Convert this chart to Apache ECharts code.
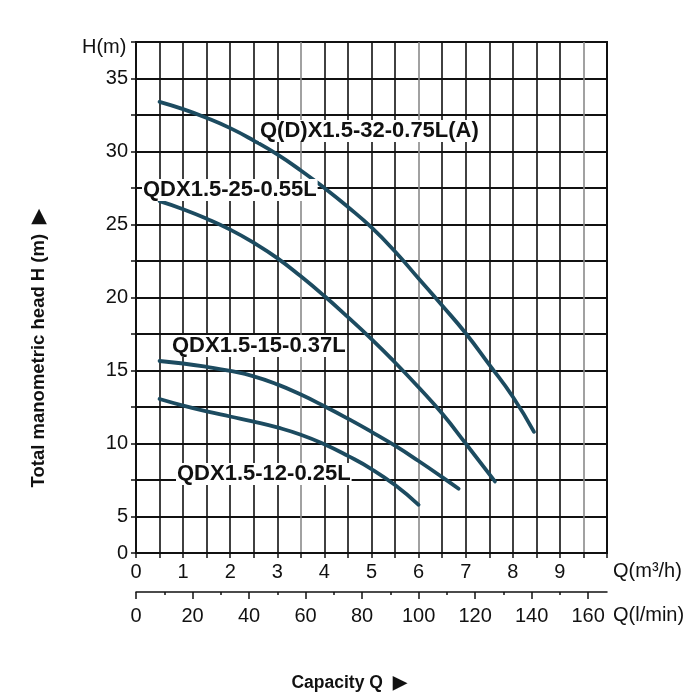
<!DOCTYPE html>
<html lang="en">
<head>
    <meta charset="UTF-8">
    <title>QDX pump curves</title>
    <script src="https://cdn.jsdelivr.net/npm/echarts@6.0.0/dist/echarts.min.js"></script>
</head>
<body style="margin:0">
    <div id="main" style="width: 700px; height: 700px;"></div>

    <script type="text/javascript">
        // model names, in the order of the curves below
        const models = ['Q(D)X1.5-32-0.75L(A)', 'QDX1.5-25-0.55L', 'QDX1.5-15-0.37L', 'QDX1.5-12-0.25L']

        // capacity Q (m3/h) and head H (m)
        const q32 = [0.5, 1.0, 1.5, 2.0, 2.5, 3.0, 3.5, 4.0, 4.5, 5.0, 5.5, 6.0, 6.5, 7.0, 7.5, 8.0, 8.45]
        const h32 = [33.4, 32.9, 32.3, 31.6, 30.75, 29.8, 28.7, 27.5, 26.2, 24.8, 23.15, 21.3, 19.45, 17.55, 15.4, 13.2, 10.8]

        const q25 = [0.5, 1.0, 1.5, 2.0, 2.5, 3.0, 3.5, 4.0, 4.5, 5.0, 5.5, 6.0, 6.5, 7.0, 7.62]
        const h25 = [26.6, 26.05, 25.4, 24.65, 23.75, 22.7, 21.45, 20.1, 18.65, 17.15, 15.55, 13.85, 12.05, 10.0, 7.4]

        const q15 = [0.5, 1.0, 1.5, 2.0, 2.5, 3.0, 3.5, 4.0, 4.5, 5.0, 5.5, 6.0, 6.5, 6.85]
        const h15 = [15.65, 15.48, 15.25, 14.97, 14.6, 14.05, 13.35, 12.55, 11.7, 10.8, 9.85, 8.8, 7.7, 6.9]

        const q12 = [0.5, 1.0, 1.5, 2.0, 2.5, 3.0, 3.5, 4.0, 4.5, 5.0, 5.5, 6.0]
        const h12 = [13.05, 12.6, 12.2, 11.85, 11.5, 11.1, 10.6, 9.95, 9.15, 8.25, 7.15, 5.8]

        // tick labels
        const flowLabels = [0, 1, 2, 3, 4, 5, 6, 7, 8, 9]
        const headLabels = [0, 5, 10, 15, 20, 25, 30, 35]
        const lminLabels = [0, 20, 40, 60, 80, 100, 120, 140, 160]
        const lminTicks = [0, 10, 20, 30, 40, 50, 60, 70, 80, 90, 100, 110, 120, 130, 140, 150, 160]

        const font = 'Liberation Sans, Arial, sans-serif'
        const ink = '#111'
        const curve = '#1c4b60'

        // the bottom row of the grid is squeezed: its lower line stands for H = 0
        const headFloor = 2.5

        function pairs(qs, hs) {
            return qs.map((q, i) => [q, hs[i]])
        }

        // a few vertical lines are grey in the original
        let vColors = []
        for (let i = 0; i <= 20; i++) {
            vColors.push([7, 12, 19].includes(i) ? '#8a8a8a' : ink)
        }

        let lineSeries = [[q32, h32], [q25, h25], [q15, h15], [q12, h12]].map((c, i) => ({
            name: models[i],
            type: 'line',
            xAxisIndex: 0,
            yAxisIndex: 0,
            smooth: 0.5,
            symbol: 'none',
            lineStyle: {color: curve, width: 3.8, cap: 'round'},
            data: pairs(c[0], c[1]),
            z: 5
        }))

        let labelPos = [[259, 131], [142, 190], [171, 346], [176, 474]]

        let options = {
            animation: false,
            grid: {
                left: 136, right: 93, top: 42, bottom: 147,
                show: true, borderColor: ink, borderWidth: 2, backgroundColor: '#fff'
            },
            xAxis: [
                {
                    type: 'value', min: 0, max: 10, interval: 0.5, position: 'bottom',
                    axisLine: {lineStyle: {color: ink, width: 2}},
                    axisTick: {length: 5, lineStyle: {color: ink, width: 1.5}},
                    axisLabel: {
                        color: ink, fontFamily: font, fontSize: 20, margin: 9,
                        formatter: v => flowLabels.includes(v) ? String(v) : ''
                    },
                    splitLine: {lineStyle: {color: vColors, width: 1.6}}
                },
                {
                    type: 'value', min: 0, max: 500 / 3, interval: 10, position: 'bottom', offset: 39,
                    axisLine: {onZero: false, lineStyle: {color: ink, width: 1.5}},
                    axisTick: {customValues: lminTicks, length: 3, lineStyle: {color: ink, width: 1.5}},
                    axisLabel: {
                        customValues: lminLabels, color: ink, fontFamily: font, fontSize: 20, margin: 14
                    },
                    splitLine: {show: false}
                },
                {
                    type: 'value', min: 0, max: 500 / 3, interval: 20, position: 'bottom', offset: 39,
                    axisLine: {show: false},
                    axisTick: {customValues: lminLabels, length: 7, lineStyle: {color: ink, width: 1.5}},
                    axisLabel: {show: false},
                    splitLine: {show: false}
                }
            ],
            yAxis: {
                type: 'value', min: headFloor, max: 37.5, interval: 2.5,
                axisLine: {show: true, lineStyle: {color: ink, width: 2}},
                axisTick: {show: true, length: 5, lineStyle: {color: ink, width: 1.5}},
                axisLabel: {
                    color: ink, fontFamily: font, fontSize: 20, margin: 8,
                    formatter: v => v === headFloor ? '0' : (headLabels.includes(v) ? String(v) : '')
                },
                splitLine: {lineStyle: {color: ink, width: 2}}
            },
            series: lineSeries,
            graphic: [
                {type: 'text', left: 82, top: 37, style: {text: 'H(m)', font: '20px ' + font, fill: ink}},
                {type: 'text', left: 613, top: 561, style: {text: 'Q(m³/h)', font: '20px ' + font, fill: ink}},
                {type: 'text', left: 613, top: 605, style: {text: 'Q(l/min)', font: '20px ' + font, fill: ink}},
                {
                    type: 'text', x: 39, y: 348, rotation: Math.PI / 2,
                    style: {
                        text: 'Total manometric head H (m)  ▶', font: 'bold 18.5px ' + font, fill: ink,
                        align: 'center', verticalAlign: 'middle'
                    }
                },
                {
                    type: 'text', x: 349, y: 683,
                    style: {
                        text: 'Capacity Q  ▶', font: 'bold 17.5px ' + font, fill: ink,
                        align: 'center', verticalAlign: 'middle'
                    }
                }
            ].concat(models.map((m, i) => ({
                type: 'text', x: labelPos[i][0], y: labelPos[i][1], z: 10,
                style: {
                    text: m, font: 'bold 22px ' + font, fill: ink,
                    verticalAlign: 'middle', backgroundColor: '#fff', padding: [0, 1]
                }
            })))
        }

        let myChart = echarts.init(document.getElementById('main'))
        myChart.setOption(options)
    </script>
</body>
</html>
